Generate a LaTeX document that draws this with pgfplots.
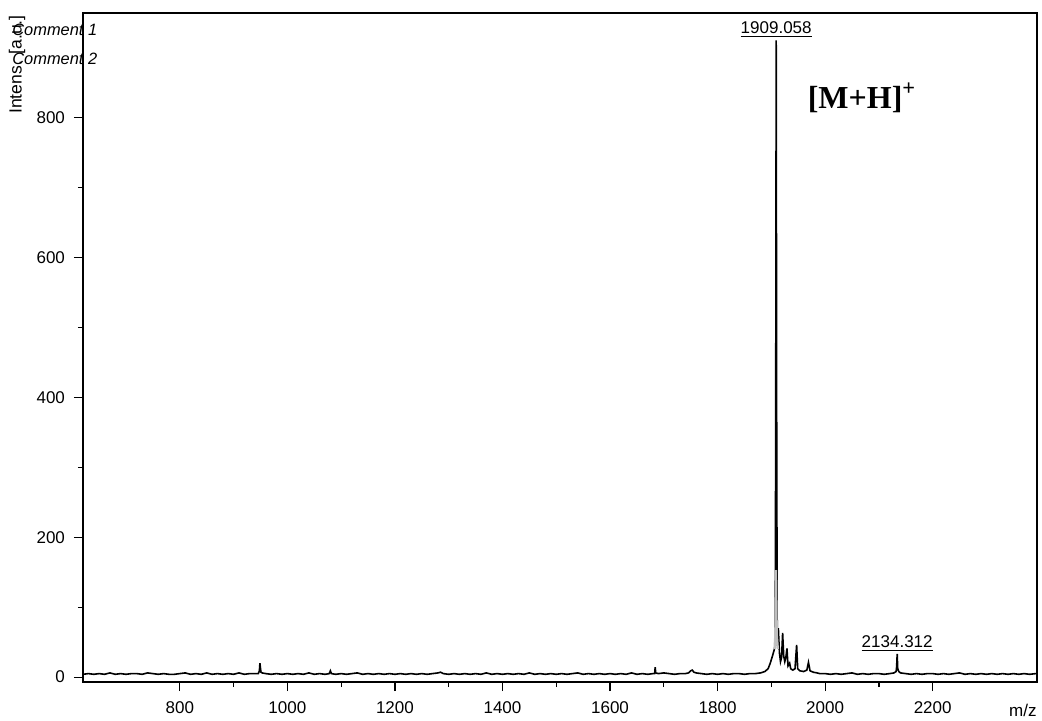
\documentclass[border=0pt]{standalone}
\usepackage{pgfplots}
\pgfplotsset{compat=1.18}
\usepackage{fontspec}
\setmainfont{Liberation Sans}
\newfontfamily\serifbf{Liberation Serif}
\begin{document}
\begin{tikzpicture}
\begin{axis}[
  scale only axis,
  width=477pt, height=334.5pt,
  xmin=620, xmax=2394, ymin=-7, ymax=949,
  axis line style={line width=0.7pt},
  xtick={800,1000,...,2200},
  ytick={0,200,...,800},
  minor x tick num=1, minor y tick num=1,
  tick align=outside, tick pos=left,
  major tick length=4.5pt, minor tick length=2.5pt,
  every tick/.style={black, line width=0.6pt},
  ticklabel style={font=\fontsize{8.5}{9}\selectfont},
  /pgf/number format/assume math mode=true,
  /pgf/number format/set thousands separator={},
  xticklabel style={yshift=-2pt},
  yticklabel style={xshift=-1pt},
  clip=false,
]
\addplot[black, line width=0.8pt] coordinates {
(620,4) (630,5) (640,4) (650,5) (660,4) (670,6) (680,4) (690,5) (700,4) (710,5)
(720,5) (730,4) (740,6) (750,5) (760,4) (770,5) (780,4) (790,4) (800,5) (810,6)
(820,4) (830,5) (840,4) (850,6) (860,4) (870,5) (880,4) (890,5) (900,4) (910,6)
(920,4) (930,5) (940,5) (946,5) (948,9) (949,20) (950,13) (951,7) (953,6) (960,5)
(970,4) (980,5) (990,4) (1000,5) (1010,4) (1020,5) (1030,4) (1040,6) (1050,4) (1060,5)
(1070,4) (1078,5) (1080,9) (1082,5) (1090,4) (1100,5) (1110,4) (1120,5) (1130,6) (1140,4)
(1150,5) (1160,4) (1170,5) (1180,4) (1190,5) (1200,4) (1210,5) (1220,4) (1230,5) (1240,4)
(1250,5) (1260,4) (1270,5) (1280,6) (1285,7) (1290,5) (1300,4) (1310,5) (1320,4) (1330,5)
(1340,4) (1350,5) (1360,4) (1370,6) (1380,4) (1390,5) (1400,4) (1410,5) (1420,4) (1430,5)
(1440,4) (1450,6) (1460,4) (1470,5) (1480,4) (1490,5) (1500,4) (1510,5) (1520,4) (1530,5)
(1540,6) (1550,4) (1560,5) (1570,4) (1580,5) (1590,4) (1600,5) (1610,4) (1620,5) (1630,4)
(1640,6) (1650,4) (1660,5) (1670,4) (1680,5) (1683,5) (1684,14) (1685,6) (1690,5) (1700,6)
(1710,5) (1720,4) (1730,5) (1740,5) (1746,6) (1750,9) (1753,10) (1756,7) (1760,6) (1770,5)
(1780,4) (1790,5) (1800,4) (1810,5) (1820,4) (1830,5) (1840,5) (1850,4) (1860,5) (1870,5)
(1880,6) (1888,8) (1894,12) (1898,20) (1902,30) (1905,38) (1907,45) (1908,320) (1909,910) (1910,330)
(1911,45) (1913,70) (1915,35) (1917,22) (1919,28) (1921,63) (1923,30) (1925,22) (1927,28) (1929,41)
(1931,16) (1934,20) (1936,12) (1940,10) (1944,12) (1947,46) (1949,12) (1953,9) (1960,8) (1966,10)
(1969,21) (1972,9) (1978,7) (1985,6) (1990,5) (2000,5) (2010,4) (2020,5) (2030,4) (2040,5)
(2050,6) (2060,4) (2070,5) (2080,4) (2090,5) (2100,5) (2110,4) (2120,5) (2128,6) (2132,8)
(2133,15) (2134,33) (2135,12) (2137,8) (2140,6) (2150,5) (2160,4) (2170,5) (2180,4) (2190,5)
(2200,5) (2210,4) (2220,5) (2230,4) (2240,5) (2250,6) (2260,4) (2270,5) (2280,4) (2290,5)
(2300,4) (2310,5) (2320,4) (2330,5) (2340,4) (2350,5) (2360,4) (2370,5) (2380,4) (2392,5)
};
\addplot[black!25, line width=1.2pt] coordinates {
(1906,40) (1907.5,60) (1908.5,153) (1910,60) (1912,40)
};
\node[anchor=base, inner sep=0pt, font=\fontsize{8.5}{9}\selectfont] at (axis cs:1909,920) {\underline{1909.058}};
\node[anchor=base, inner sep=0pt, font=\fontsize{8.5}{9}\selectfont] at (axis cs:2134,43) {\underline{2134.312}};
\node[anchor=base west, inner sep=0pt, font=\serifbf\bfseries\fontsize{16}{18}\selectfont] at (axis cs:1967,813) {[M+H]\textsuperscript{+}};
\node[anchor=north east, inner sep=0pt, font=\fontsize{8.5}{9}\selectfont] at (rel axis cs:1,0) [yshift=-11pt] {m/z};
\node[xshift=-33pt, yshift=-1pt, rotate=90, anchor=east, inner sep=0pt, font=\fontsize{8.8}{9}\selectfont] at (rel axis cs:0,1) {Intens. [a.u.]};
\node[anchor=base west, inner sep=0pt, font=\itshape\fontsize{8.2}{9}\selectfont] at (rel axis cs:0,1) [xshift=-35.5pt, yshift=-11.5pt] {Comment 1};
\node[anchor=base west, inner sep=0pt, font=\itshape\fontsize{8.2}{9}\selectfont] at (rel axis cs:0,1) [xshift=-35.5pt, yshift=-26pt] {Comment 2};
\end{axis}
\path (-41.5pt,-19pt) rectangle (479.5pt,341pt);
\end{tikzpicture}
\end{document}
